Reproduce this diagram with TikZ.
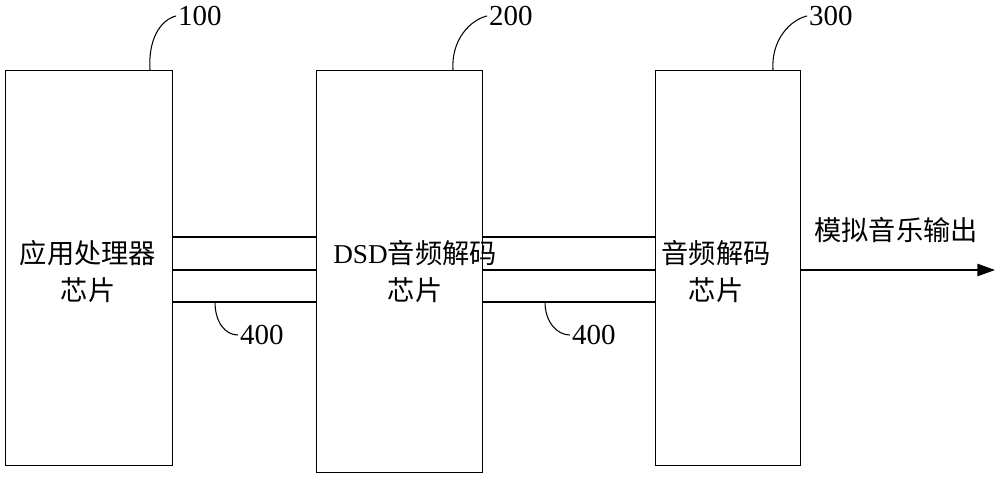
\documentclass[tikz,border=0pt]{standalone}
\usepackage{fontspec}
\setmainfont{Liberation Serif}
\newfontfamily\cjk{Noto Sans CJK SC}
\usetikzlibrary{arrows.meta}
\begin{document}
\begin{tikzpicture}[x=0.02cm,y=-0.02cm,
  blk/.style={draw,line width=0.8pt,anchor=north west,inner sep=0},
  lbl/.style={font=\fontsize{15.5pt}{21pt}\selectfont,align=center,inner sep=1pt},
  num/.style={font=\fontsize{16.5pt}{20pt}\selectfont,inner sep=1pt},
  wire/.style={line width=0.8pt},
  lead/.style={line width=0.6pt}]
\useasboundingbox (0,0) rectangle (1000,490);
\node[blk,minimum width=167*0.02cm,minimum height=395*0.02cm] (b1) at (5,70) {};
\node[blk,minimum width=166*0.02cm,minimum height=402*0.02cm] (b2) at (316,70) {};
\node[blk,minimum width=145*0.02cm,minimum height=395*0.02cm] (b3) at (655,70) {};
\node[lbl] (t1) at (88,272) {{\cjk 应用处理器}\\{\cjk 芯片}};
\node[lbl] (t2) at (415,272) {DSD{\cjk 音频解码}\\{\cjk 芯片}};
\node[lbl] (t3) at (716,272) {{\cjk 音频解码}\\{\cjk 芯片}};
\foreach \y in {237,270,302}{
  \draw[wire] (172,\y) -- (316,\y);
  \draw[wire] (482,\y) -- (655,\y);
}
\coordinate (ae) at (995,270);
\draw[wire,-{Triangle[length=10pt,width=7pt]}] (800,270) -- (ae);
\node[lbl] (out) at (896,230) {\cjk 模拟音乐输出};
\node[num,anchor=west] (n100) at (176,16) {100};
\node[num,anchor=west] (n200) at (487,16) {200};
\node[num,anchor=west] (n300) at (807,16) {300};
\draw[lead] (150,70) .. controls (148,40) and (160,20) .. (n100.west);
\draw[lead] (453,70) .. controls (451,40) and (470,20) .. (n200.west);
\draw[lead] (773,70) .. controls (771,40) and (790,20) .. (n300.west);
\node[num,anchor=west] (n400a) at (238,335) {400};
\node[num,anchor=west] (n400b) at (570,335) {400};
\draw[lead] (215,302) .. controls (215,322) and (225,335) .. (n400a.west);
\draw[lead] (545,302) .. controls (545,322) and (557,335) .. (n400b.west);
\end{tikzpicture}
\end{document}
